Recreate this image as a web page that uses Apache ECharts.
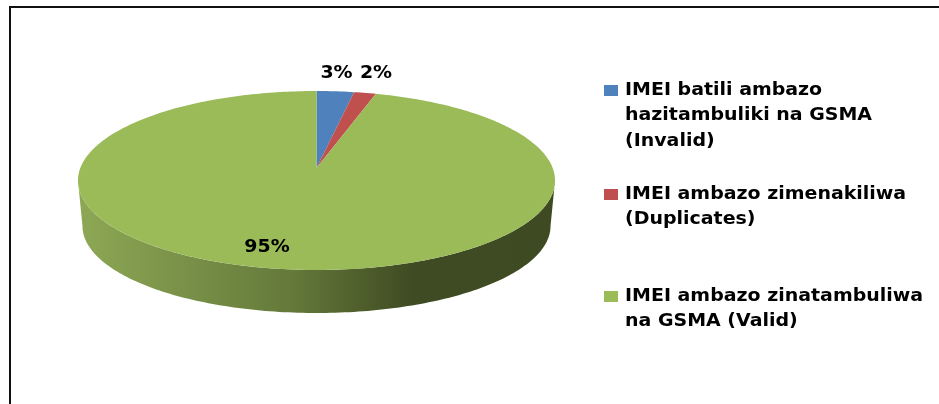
<!DOCTYPE html>
<html>
<head>
<meta charset="utf-8">
<style>
  html, body { margin: 0; padding: 0; background: #fff; }
  #chart { width: 939px; height: 404px; }
</style>
<script src="https://cdn.jsdelivr.net/npm/echarts@6/dist/echarts.min.js"></script>
</head>
<body>
<div id="chart"></div>
<script>
const sliceNames = ['Invalid', 'Duplicates', 'Valid']
const sliceValues = [2.9, 1.7, 95.4]
const sliceColors = ['#4f81bd', '#c0504d', '#9bbb59']
const legendLabels = [
  ['IMEI batili ambazo', 'hazitambuliki na GSMA', '(Invalid)'],
  ['IMEI ambazo zimenakiliwa', '(Duplicates)'],
  ['IMEI ambazo zinatambuliwa', 'na GSMA (Valid)']
]

const total = sliceValues.reduce((a, b) => a + b, 0)
const FONT = 'bold 18px "DejaVu Sans"'
const TEXT_STRETCH = 1.054 // the source image is stretched sideways a little

// the pie is tilted, so the hub sits above the middle of the ellipse
const apex = {x: 316.5, y: 168}
const persp = 0.1397
const scaleX = 236.2
const scaleY = 87.75
const base = {cx: 316.5, cy: 180.5, rx: 238.5, ry: 89.5, cy2: 226, rx2: 234, ry2: 87}

// angle in degrees, clockwise from 12 o'clock
function rim(deg) {
  const t = deg * Math.PI / 180
  const d = 1 + persp * Math.cos(t)
  return [apex.x + scaleX * Math.sin(t) / d, apex.y - scaleY * Math.cos(t) / d]
}

function lowerRim(deg) {
  const p = rim(deg)
  return [
    base.cx + (p[0] - base.cx) * base.rx2 / base.rx,
    base.cy2 + (p[1] - base.cy) * base.ry2 / base.ry
  ]
}

function sweep(from, to, fn) {
  const pts = []
  const n = Math.max(2, Math.ceil(Math.abs(to - from)))
  for (let i = 0; i <= n; i++) pts.push(fn(from + (to - from) * i / n))
  return pts
}

const labelPos = [[336.5, 73], [376, 73], [267, 247]]

function renderSlice(params, api) {
  const i = params.dataIndex
  let start = 0
  for (let k = 0; k < i; k++) start += sliceValues[k] / total * 360
  const end = start + api.value(0) / total * 360
  const children = []

  // side wall, only the part facing the viewer
  const visFrom = Math.max(start, 98)
  const visTo = Math.min(end, 262)
  if (visTo > visFrom) {
    children.push({
      type: 'polygon',
      shape: {points: sweep(visFrom, visTo, rim).concat(sweep(visTo, visFrom, lowerRim))},
      style: {
        fill: new echarts.graphic.LinearGradient(1, 0, 0, 0, [
          {offset: 0, color: '#3e4a21'},
          {offset: 0.3, color: '#3f4b22'},
          {offset: 0.55, color: '#64793a'},
          {offset: 1, color: '#8da855'}
        ])
      }
    })
  }

  children.push({
    type: 'polygon',
    shape: {points: [[apex.x, apex.y]].concat(sweep(start, end, rim))},
    style: {fill: sliceColors[i]}
  })

  children.push({
    type: 'text',
    z2: 10,
    x: labelPos[i][0],
    y: labelPos[i][1],
    scaleX: TEXT_STRETCH,
    style: {
      text: Math.round(api.value(0)) + '%',
      font: FONT,
      fill: '#000',
      align: 'center',
      verticalAlign: 'middle'
    }
  })
  return {type: 'group', children}
}

const legendTop = [90, 194, 296]
const lineGap = 25.5
const legendGraphics = []
legendLabels.forEach((lines, i) => {
  legendGraphics.push({
    type: 'rect',
    shape: {x: 604, y: legendTop[i] - 5, width: 14, height: 11},
    style: {fill: sliceColors[i]}
  })
  lines.forEach((line, j) => {
    legendGraphics.push({
      type: 'text',
      x: 625,
      y: legendTop[i] + j * lineGap,
      scaleX: TEXT_STRETCH,
      style: {
        text: line,
        font: FONT,
        fill: '#000',
        verticalAlign: 'middle'
      }
    })
  })
})

const frame = {
  type: 'polyline',
  shape: {points: [[10, 404], [10, 7], [939, 7]]},
  style: {stroke: '#111', lineWidth: 2, fill: null}
}

const chart = echarts.init(document.getElementById('chart'), null, {renderer: 'canvas'})
chart.setOption({
  animation: false,
  backgroundColor: '#fff',
  graphic: {elements: [frame].concat(legendGraphics)},
  series: [{
    type: 'custom',
    coordinateSystem: 'none',
    renderItem: renderSlice,
    data: sliceValues.map((v, i) => ({name: sliceNames[i], value: [v]}))
  }]
})
</script>
</body>
</html>
